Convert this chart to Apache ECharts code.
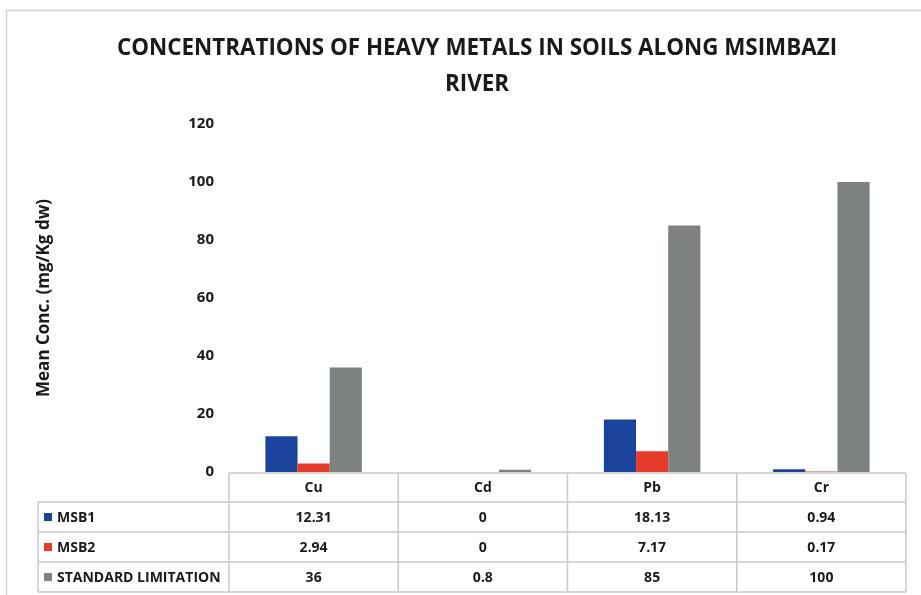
<!DOCTYPE html>
<html>
<head>
<meta charset="utf-8">
<script src="https://cdn.jsdelivr.net/npm/echarts@6/dist/echarts.min.js"></script>
<style>html,body{margin:0;padding:0;background:#fff;}#c{width:921px;height:595px;}</style>
</head>
<body>
<div id="c"></div>
<script>
const categories = ['Cu', 'Cd', 'Pb', 'Cr'];
const seriesNames = ['MSB1', 'MSB2', 'STANDARD LIMITATION'];
const msb1 = [12.31, 0, 18.13, 0.94];
const msb2 = [2.94, 0, 7.17, 0.17];
const standard = [36, 0.8, 85, 100];
const yTicks = [0, 20, 40, 60, 80, 100, 120];

const seriesData = [msb1, msb2, standard];
const colors = ['#1a449c', '#e63a2a', '#7e8181'];
const FONT = "'Open Sans', sans-serif";
const BODYFONT = "'Open Sans', sans-serif";

const gridLeft = 229, gridRight = 906, gridTop = 124, gridBottom = 472;
const tableLeft = 38;
const rowH = 30;
const headerBottom = 502;
const lineColor = '#c9c9c9';

const chart = echarts.init(document.getElementById('c'), null, {renderer: 'canvas'});

const graphics = [];
// outer frame
graphics.push({type: 'rect', shape: {x: 6.5, y: 10.5, width: 940, height: 600}, style: {fill: 'none', stroke: '#d3d3d3', lineWidth: 1.5}, silent: true});
// table lines
const colW = (gridRight - gridLeft) / categories.length;
const hl = (x1, x2, y) => graphics.push({type: 'line', shape: {x1, y1: y, x2, y2: y}, style: {stroke: lineColor, lineWidth: 1.5}, silent: true, z: 10});
const vl = (x, y1, y2) => graphics.push({type: 'line', shape: {x1: x, y1, x2: x, y2}, style: {stroke: lineColor, lineWidth: 1.5}, silent: true, z: 10});
hl(gridLeft, gridRight, gridBottom + 1);
for (let r = 0; r <= seriesNames.length; r++) hl(tableLeft, gridRight, headerBottom + r * rowH);
const tableBottom = headerBottom + seriesNames.length * rowH;
vl(tableLeft, headerBottom, tableBottom);
for (let c = 0; c <= categories.length; c++) vl(gridLeft + c * colW, gridBottom + 1, tableBottom);
// header text
categories.forEach((cat, i) => {
  graphics.push({type: 'text', x: gridLeft + (i + 0.5) * colW, y: (gridBottom + headerBottom) / 2 + 1,
    style: {text: cat, fontSize: 14, fontWeight: 'bold', fontFamily: BODYFONT, fill: '#1a1a1a', align: 'center', verticalAlign: 'middle'}, z: 11});
});
// rows
seriesNames.forEach((name, r) => {
  const cy = headerBottom + (r + 0.5) * rowH;
  graphics.push({type: 'rect', shape: {x: 44, y: cy - 4, width: 8, height: 8}, style: {fill: colors[r]}, z: 11});
  graphics.push({type: 'text', x: 57, y: cy + 1,
    style: {text: name, fontSize: 14, fontWeight: 'bold', fontFamily: BODYFONT, fill: '#1a1a1a', align: 'left', verticalAlign: 'middle'}, z: 11});
  seriesData[r].forEach((v, i) => {
    graphics.push({type: 'text', x: gridLeft + (i + 0.5) * colW, y: cy + 1,
      style: {text: String(v), fontSize: 14, fontWeight: 'bold', fontFamily: BODYFONT, fill: '#1a1a1a', align: 'center', verticalAlign: 'middle'}, z: 11});
  });
});
// y axis title
graphics.push({type: 'text', x: 44, y: 298, rotation: Math.PI / 2,
  style: {text: 'Mean Conc. (mg/Kg dw)', fontSize: 17, fontWeight: 'bold', fontFamily: BODYFONT, fill: '#1a1a1a', align: 'center', verticalAlign: 'middle'}});

chart.setOption({
  animation: false,
  backgroundColor: '#ffffff',
  title: {
    text: 'CONCENTRATIONS OF HEAVY METALS IN SOILS ALONG MSIMBAZI\nRIVER',
    left: 472, top: 26, textAlign: 'center',
    textStyle: {fontFamily: FONT, fontSize: 22.4, fontWeight: 'bold', color: '#1a1a1a', lineHeight: 36}
  },
  grid: {left: gridLeft, right: 921 - gridRight, top: gridTop, bottom: 595 - gridBottom, containLabel: false},
  xAxis: {
    type: 'category', data: categories,
    axisLine: {show: false}, axisTick: {show: false}, axisLabel: {show: false}, splitLine: {show: false}
  },
  yAxis: {
    type: 'value', min: yTicks[0], max: yTicks[yTicks.length - 1], interval: yTicks[1] - yTicks[0],
    axisLine: {show: false}, axisTick: {show: false}, splitLine: {show: false},
    axisLabel: {margin: 15, fontSize: 15, fontWeight: 'bold', fontFamily: BODYFONT, color: '#1a1a1a'}
  },
  series: seriesNames.map((name, i) => ({
    name, type: 'bar', data: seriesData[i], barGap: '0%', barCategoryGap: '43%',
    itemStyle: {color: colors[i]}
  })),
  graphic: graphics
});
</script>
</body>
</html>
